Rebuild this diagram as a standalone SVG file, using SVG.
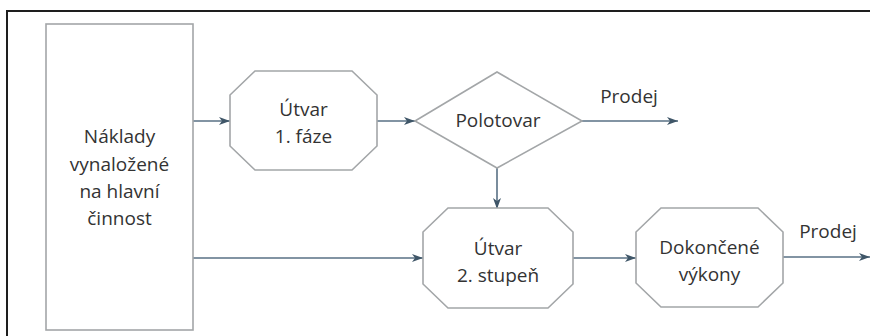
<svg xmlns="http://www.w3.org/2000/svg" width="870" height="336" viewBox="0 0 870 336">
<style>
.shape{fill:#ffffff;stroke:#a3a6a8;stroke-width:1.6}
.conn{stroke:#587084;stroke-width:1.6;fill:none}
.lbl{font-family:"Open Sans","Liberation Sans",sans-serif;font-size:19px;fill:#333333;text-anchor:middle}
</style>
<defs>
<marker id="arr" markerUnits="userSpaceOnUse" markerWidth="12" markerHeight="10" refX="11" refY="4.5" orient="auto">
<path d="M0,0.5 L11,4.5 L0,8.5 L3,4.5 z" fill="#3f5668"/>
</marker>
</defs>
<rect x="0" y="0" width="870" height="336" fill="#ffffff"/>
<rect x="7" y="11" width="880" height="340" fill="none" stroke="#1e1e1e" stroke-width="2"/>
<g id="connectors">
<line class="conn" x1="193" y1="121" x2="230" y2="121" marker-end="url(#arr)"/>
<line class="conn" x1="377" y1="121" x2="415" y2="121" marker-end="url(#arr)"/>
<line class="conn" x1="582" y1="121" x2="678" y2="121" marker-end="url(#arr)"/>
<line class="conn" x1="497" y1="168" x2="497" y2="209" marker-end="url(#arr)"/>
<line class="conn" x1="193" y1="258" x2="423" y2="258" marker-end="url(#arr)"/>
<line class="conn" x1="573" y1="258" x2="636" y2="258" marker-end="url(#arr)"/>
<line class="conn" x1="783" y1="257" x2="870" y2="257" marker-end="url(#arr)"/>
</g>
<g id="naklady">
<rect class="shape" x="46" y="24" width="147" height="306"/>
<text class="lbl" x="119.5" y="143">Náklady</text>
<text class="lbl" x="119.5" y="171">vynaložené</text>
<text class="lbl" x="119.5" y="198">na hlavní</text>
<text class="lbl" x="119.5" y="225">činnost</text>
</g>
<g id="utvar1">
<polygon class="shape" points="255,71 352,71 377,95 377,146 352,170 255,170 230,146 230,95"/>
<text class="lbl" x="303.5" y="116">Útvar</text>
<text class="lbl" x="303.5" y="143">1. fáze</text>
</g>
<g id="polotovar">
<polygon class="shape" points="415,121 497,72 582,121 497,168"/>
<text class="lbl" x="498" y="127">Polotovar</text>
</g>
<g id="prodej1">
<text class="lbl" x="629" y="103">Prodej</text>
</g>
<g id="utvar2">
<polygon class="shape" points="448,208 548,208 573,232 573,284 548,308 448,308 423,284 423,232"/>
<text class="lbl" x="498" y="255">Útvar</text>
<text class="lbl" x="498" y="282">2. stupeň</text>
</g>
<g id="dokoncene">
<polygon class="shape" points="661,208 758,208 783,232 783,283 758,307 661,307 636,283 636,232"/>
<text class="lbl" x="709.5" y="254">Dokončené</text>
<text class="lbl" x="709.5" y="281">výkony</text>
</g>
<g id="prodej2">
<text class="lbl" x="828" y="238">Prodej</text>
</g>
</svg>
